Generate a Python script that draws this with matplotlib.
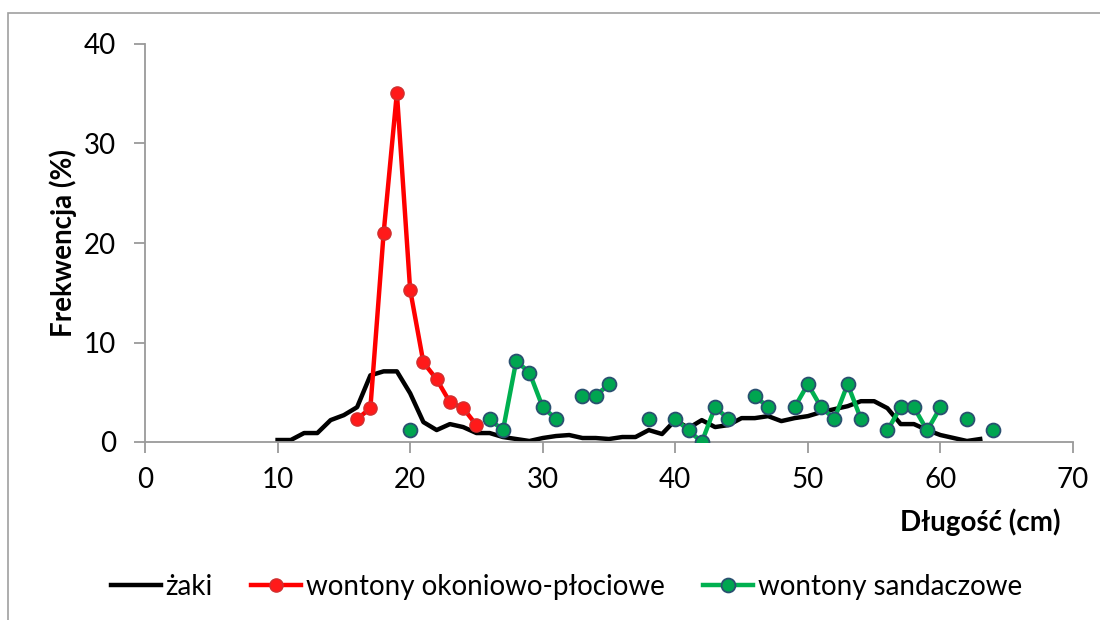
import numpy as np
import matplotlib
matplotlib.use("Agg")
import matplotlib.pyplot as plt
from matplotlib.patches import Rectangle

plt.rcParams['font.family'] = ['Lato', 'DejaVu Sans']

# żaki (continuous line, 10..63 cm)
zaki_x = list(range(10, 64))
zaki_y = [0.2, 0.2, 0.9, 0.9, 2.2, 2.7, 3.5, 6.7, 7.1, 7.1,
          4.9, 2.0, 1.2, 1.8, 1.5, 0.9, 0.9, 0.5, 0.3, 0.1,
          0.4, 0.6, 0.7, 0.4, 0.4, 0.3, 0.5, 0.5, 1.2, 0.8,
          2.2, 1.4, 2.2, 1.5, 1.7, 2.4, 2.4, 2.6, 2.1, 2.4,
          2.6, 3.0, 3.3, 3.6, 4.1, 4.1, 3.4, 1.8, 1.8, 1.2,
          0.7, 0.4, 0.1, 0.3]

# wontony okoniowo-płociowe
okon_x = [16, 17, 18, 19, 20, 21, 22, 23, 24, 25]
okon_y = [2.3, 3.4, 21.0, 35.1, 15.3, 8.0, 6.3, 4.0, 3.4, 1.7]

# wontony sandaczowe (NaN = no catch, line broken)
nan = np.nan
sand_x = list(range(20, 65))
sand_y = [1.16, nan, nan, nan, nan, nan, 2.33, 1.16, 8.14, 6.98,
          3.49, 2.33, nan, 4.65, 4.65, 5.81, nan, nan, 2.33, nan,
          2.33, 1.16, 0.0, 3.49, 2.33, nan, 4.65, 3.49, nan, 3.49,
          5.81, 3.49, 2.33, 5.81, 2.33, nan, 1.16, 3.49, 3.49, 1.16,
          3.49, nan, 2.33, nan, 1.16]

fig = plt.figure(figsize=(11, 6.2), dpi=100)
fig.patches.append(Rectangle((8 / 1100, -0.1), 1.2, 0.1 + (620 - 13) / 620,
                             transform=fig.transFigure, fill=False,
                             edgecolor='#a0a0a0', linewidth=1.2))

ax = fig.add_axes([145 / 1100, 1 - 442 / 620, 928 / 1100, 398 / 620])

ax.plot(zaki_x, zaki_y, color='black', linewidth=3.2, label='żaki', zorder=2)
ax.plot(okon_x, okon_y, color='#ff0000', linewidth=3.2, marker='o', markersize=9.5,
        markerfacecolor='#ff1a1a', markeredgecolor='#d03030', markeredgewidth=1,
        label='wontony okoniowo-płociowe', zorder=3)
ax.plot(sand_x, sand_y, color='#00b050', linewidth=3.2, marker='o', markersize=10,
        markerfacecolor='#00a550', markeredgecolor='#2a5070', markeredgewidth=1.3,
        label='wontony sandaczowe', zorder=3)

ax.set_xlim(0, 70)
ax.set_ylim(0, 40)
ax.set_xticks(range(0, 71, 10))
ax.set_yticks(range(0, 41, 10))
ax.spines['top'].set_visible(False)
ax.spines['right'].set_visible(False)
for s in ('left', 'bottom'):
    ax.spines[s].set_color('#9a9a9a')
    ax.spines[s].set_linewidth(1.3)
ax.tick_params(axis='both', direction='out', length=8, width=1.3,
               color='#9a9a9a', labelsize=20, labelcolor='black')
ax.tick_params(axis='x', pad=10)
ax.tick_params(axis='y', pad=13)

fig.text(63 / 1100, 1 - 243 / 620, 'Frekwencja (%)', fontsize=20,
         fontweight='bold', rotation=90, ha='center', va='center')
fig.text(1060 / 1100, 1 - 522 / 620, 'Długość (cm)', fontsize=20,
         fontweight='bold', ha='right', va='center')

fig.legend(loc='center', bbox_to_anchor=(0.515, 1 - 587 / 620), ncol=3,
           frameon=False, fontsize=20, handlelength=1.8, handletextpad=0.15,
           columnspacing=1.4)

fig.savefig('out.png', dpi=100)
